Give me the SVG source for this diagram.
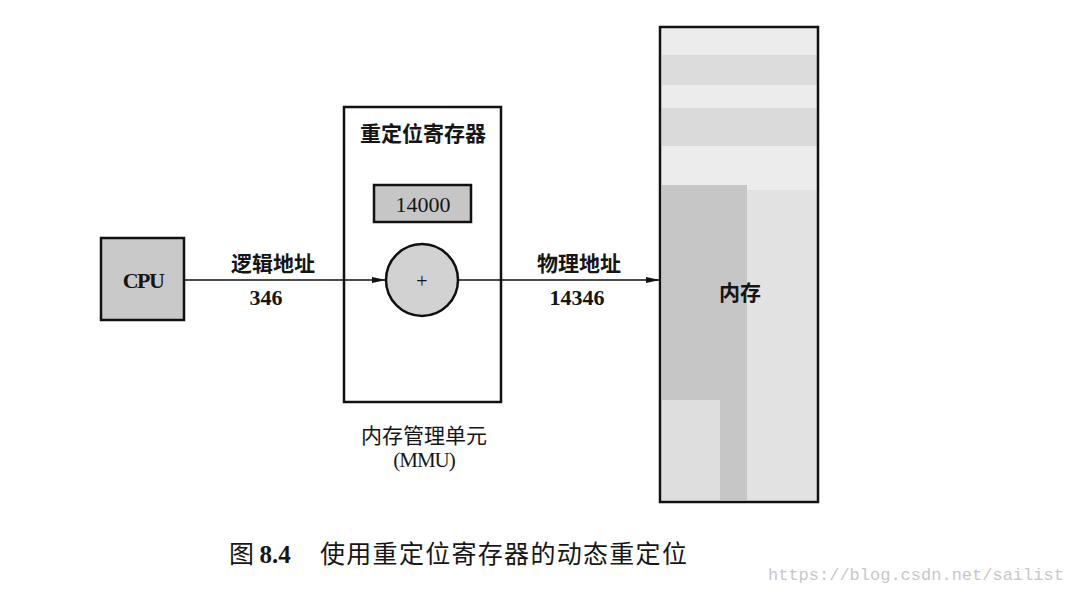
<svg xmlns="http://www.w3.org/2000/svg" width="1069" height="593" viewBox="0 0 1069 593">
<style>
.box{stroke:#111;stroke-width:2.5}
.cjk{font-family:"Noto Sans CJK SC","Liberation Serif",sans-serif;fill:#151515;font-weight:bold}
.cjkr{font-family:"Noto Sans CJK SC","Liberation Serif",sans-serif;fill:#151515;font-weight:normal}
.num{font-family:"Liberation Serif",serif;fill:#151515;font-weight:bold}
.numr{font-family:"Liberation Serif",serif;fill:#151515;font-weight:normal}
.conn{stroke:#111;stroke-width:1.6;fill:none}
</style>
<defs>
<marker id="arr" markerWidth="14" markerHeight="8" refX="14" refY="4" orient="auto" markerUnits="userSpaceOnUse">
<path d="M0,1 L14,4 L0,7 Z" fill="#111"/>
</marker>
</defs>
<rect width="1069" height="593" fill="#fff"/>
<g id="cpu">
<rect class="box" x="101" y="238" width="83" height="82" fill="#c9c9c9"/>
<text class="num" x="143" y="288" font-size="22" text-anchor="middle" letter-spacing="-1.5">CPU</text>
</g>
<g id="mmu">
<rect class="box" x="344" y="107" width="157" height="295" fill="#fff"/>
<text class="cjk" x="423" y="141" font-size="21" text-anchor="middle">重定位寄存器</text>
<rect class="box" x="374" y="185" width="97" height="37" fill="#c6c6c6"/>
<text class="numr" x="423" y="212" font-size="22" text-anchor="middle">14000</text>
<circle class="box" cx="422" cy="280" r="36" fill="#d2d2d2"/>
<text class="numr" x="422" y="288" font-size="20" text-anchor="middle">+</text>
<text class="cjkr" x="424" y="443" font-size="21" text-anchor="middle">内存管理单元</text>
<text class="numr" x="424" y="467" font-size="21" text-anchor="middle" letter-spacing="-1">(MMU)</text>
</g>
<g id="memory">
<rect x="660" y="27" width="158" height="475" fill="#ececec"/>
<rect x="662" y="55" width="155" height="30" fill="#dcdcdc"/>
<rect x="662" y="108" width="155" height="38" fill="#dadada"/>
<rect x="662" y="185" width="85" height="215" fill="#c6c6c6"/>
<rect x="720" y="400" width="27" height="100" fill="#c6c6c6"/>
<rect x="662" y="400" width="58" height="100" fill="#dedede"/>
<rect x="747" y="190" width="70" height="310" fill="#e2e2e2"/>
<rect class="box" x="660" y="27" width="158" height="475" fill="none"/>
<text class="cjk" x="740" y="300" font-size="21" text-anchor="middle">内存</text>
</g>
<g id="connectors">
<line class="conn" x1="184" y1="280" x2="386" y2="280" marker-end="url(#arr)"/>
<line class="conn" x1="458" y1="280" x2="660" y2="280" marker-end="url(#arr)"/>
<text class="cjk" x="273" y="271" font-size="21" text-anchor="middle">逻辑地址</text>
<text class="num" x="266" y="305" font-size="22" text-anchor="middle">346</text>
<text class="cjk" x="579" y="271" font-size="21" text-anchor="middle">物理地址</text>
<text class="num" x="577" y="305" font-size="22" text-anchor="middle">14346</text>
</g>
<text x="229" y="563" font-size="25" fill="#151515" font-family="Noto Sans CJK SC, sans-serif"><tspan>图 </tspan><tspan font-family="Liberation Serif, serif" font-weight="bold">8.4</tspan><tspan x="320" letter-spacing="1.3">使用重定位寄存器的动态重定位</tspan></text>
<text x="768" y="580" font-size="17" fill="#c8c8c8" font-family="Liberation Mono, monospace">https://blog.csdn.net/sailist</text>
</svg>
